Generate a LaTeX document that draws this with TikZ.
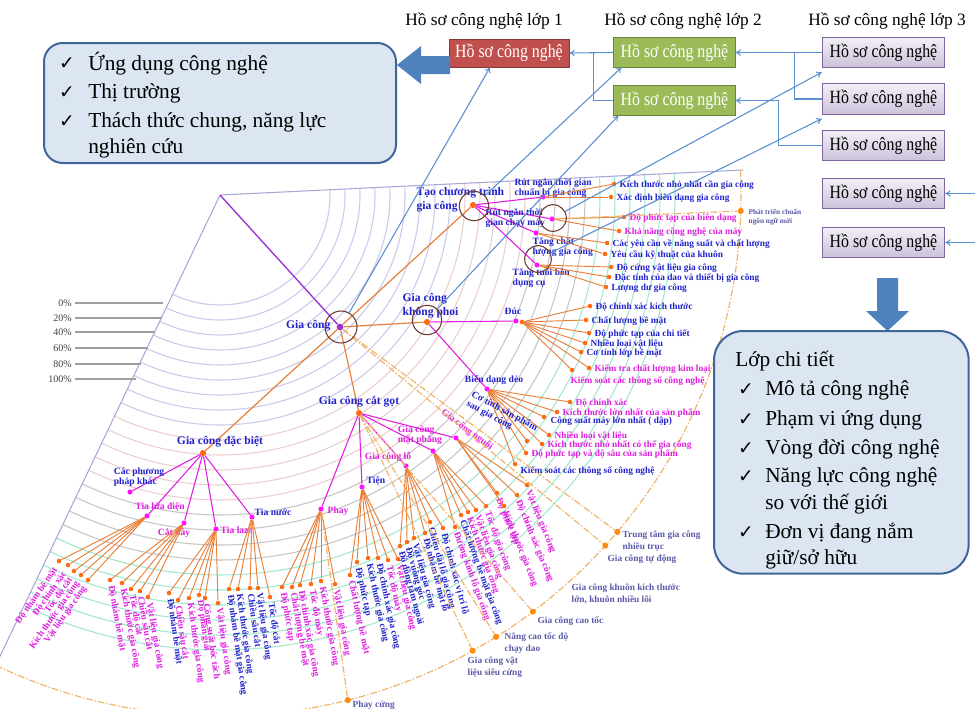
\documentclass[tikz,border=0pt]{standalone}
\usepackage{fontspec}
\setmainfont{Liberation Serif}
\newfontfamily\symf{DejaVu Sans}
\newfontfamily\condf[FakeStretch=0.85]{Liberation Serif}
\usetikzlibrary{calc,arrows.meta}
\definecolor{tb}{HTML}{2222CC}
\definecolor{tm}{HTML}{E01EE0}
\definecolor{lorange}{HTML}{E8803A}
\definecolor{dorange}{HTML}{FF6A10}
\definecolor{dmag}{HTML}{FF10FF}
\definecolor{ddash}{HTML}{F2B46A}
\definecolor{odotc}{HTML}{FF8C10}
\definecolor{slate}{HTML}{5A5AAA}
\definecolor{conblue}{HTML}{5B8FCF}
\definecolor{boxfill}{HTML}{DCE6F2}
\definecolor{boxline}{HTML}{41659A}
\definecolor{bigarrow}{HTML}{4F81BD}
\definecolor{ringc}{HTML}{6E3E30}
\definecolor{arcA}{HTML}{CACAEC}
\definecolor{arcB}{HTML}{EBCDCD}
\definecolor{arcC}{HTML}{C6C6C6}
\definecolor{arcD}{HTML}{A2E8CC}
\definecolor{edgec}{HTML}{A8A8D8}
\definecolor{purp}{HTML}{9B30D8}
\definecolor{redbox}{HTML}{C0504D}
\definecolor{greenbox}{HTML}{9BBB59}
\definecolor{purpline}{HTML}{8064A2}
\definecolor{pcttext}{HTML}{404040}

\newcommand{\hleaves}[2]{%
  \foreach \nm/\x/\y/\cl/\txt in {#2}{%
    \node[odot] (\nm) at (\x,\y) {};
    \draw[oline] (#1) -- (\nm);
    \node[leaf,text=\cl,anchor=west] (\nm t) at ($(\nm)+(5,1)$) {\txt};
  }}
\newcommand{\vleaves}[3]{%
  \foreach \nm/\x/\y/\cl/\txt in {#3}{%
    \node[odot] (\nm) at (\x,\y) {};
    \draw[oline] (#1) -- (\nm);
    \node[leaf,text=\cl,anchor=west,rotate=#2] (\nm t) at ($(\nm)+(1,5)$) {\txt};
  }}

\begin{document}
\begin{tikzpicture}[x=0.75pt,y=-0.75pt,
  odot/.style={circle,fill=dorange,inner sep=0pt,minimum size=3.4pt},
  mdot/.style={circle,fill=dmag,inner sep=0pt,minimum size=3.8pt},
  bdot/.style={circle,fill=dorange,inner sep=0pt,minimum size=4.6pt},
  xdot/.style={circle,fill=odotc,inner sep=0pt,minimum size=4.6pt},
  oline/.style={draw=lorange,line width=0.7pt},
  mline/.style={draw=tm,line width=0.8pt},
  mainline/.style={draw=lorange,line width=0.9pt},
  ring/.style={circle,draw=ringc,line width=0.8pt,inner sep=0pt,minimum size=#1},
  ring/.default=22pt,
  leaf/.style={font=\bfseries\fontsize{7}{8}\selectfont,inner sep=0.3pt},
  sub/.style={font=\bfseries\fontsize{7.2}{7.8}\selectfont,inner sep=0.3pt,align=left},
  main/.style={font=\bfseries\fontsize{8.7}{10.5}\selectfont,text=tb,inner sep=0.3pt,align=left},
  outer/.style={font=\bfseries\fontsize{7}{9}\selectfont,text=slate,inner sep=0.3pt,align=left,anchor=west},
  dashl/.style={draw=ddash,line width=0.9pt,dash pattern=on 5pt off 1.5pt on 1pt off 1.5pt},
  conn/.style={draw=conblue,line width=0.8pt,-{To[length=4pt,width=5pt]}},
  connl/.style={draw=conblue,line width=0.8pt},
  rbx/.style={fill=redbox,draw=redbox!70!black,line width=0.6pt,text=white,minimum width=90pt,minimum height=21pt,inner sep=1pt,font=\condf\fontsize{14}{16}\selectfont},
  gbx/.style={fill=greenbox,draw=greenbox!70!black,line width=0.6pt,text=white,minimum width=91pt,minimum height=22pt,inner sep=1pt,font=\condf\fontsize{14}{16}\selectfont},
  pbx/.style={top color=purpline!10,bottom color=purpline!40,draw=purpline,line width=0.6pt,text=black,minimum width=92pt,minimum height=23pt,inner sep=1pt,font=\condf\fontsize{14}{16}\selectfont},
  ttl/.style={font=\fontsize{13}{15}\selectfont,inner sep=0pt},
  bigbox/.style={draw=boxline,line width=1.5pt,fill=boxfill,inner sep=0pt},
  big/.style={font=\fontsize{16}{19}\selectfont,inner sep=0pt,anchor=west},
  chk/.style={font=\symf\fontsize{14}{16}\selectfont,inner sep=0pt},
  pct/.style={font=\fontsize{7.5}{9}\selectfont,text=pcttext,inner sep=0pt,anchor=east},
]
\useasboundingbox (0,0) rectangle (975,708);
\clip (0,0) rectangle (975,708);
\fill[white] (0,0) rectangle (975,708);

% ---------- fan ----------
\coordinate (A) at (220,195);
\foreach \r in {110,125,...,230}
  \draw[arcA,line width=0.8pt] ($(A)+(-2.74:\r)$) arc[start angle=-2.74,end angle=115.5,radius=\r];
\foreach \r in {245,260,...,305}
  \draw[arcB,line width=0.8pt] ($(A)+(-2.74:\r)$) arc[start angle=-2.74,end angle=115.5,radius=\r];
\foreach \r in {320,335,...,365}
  \draw[arcC,line width=0.8pt] ($(A)+(-2.74:\r)$) arc[start angle=-2.74,end angle=115.5,radius=\r];
\foreach \r in {380,395,...,455}
  \draw[arcD,line width=0.8pt] ($(A)+(-2.74:\r)$) arc[start angle=-2.74,end angle=115.5,radius=\r];
\draw[edgec,line width=0.8pt] (A) -- ($(A)+(-2.74:524)$);
\draw[edgec,line width=0.8pt] (A) -- ($(A)+(115.5:545)$);
\draw[dashl] ($(A)+(-2.74:521)$) arc[start angle=-2.74,end angle=119,radius=521];

% percentages
\foreach \nm/\yy/\xe/\txt in {p0/303/163/0\%,p1/318/162/20\%,p2/332/155/40\%,p3/348/148/60\%,p4/364/141/80\%,p5/379/136/100\%}{
  \node[pct] (\nm) at (72,\yy) {\txt};
  \draw[gray!75,line width=0.8pt] ($(\nm.east)+(3,0)$) -- (\xe,\yy);
}

% ---------- hubs ----------
\node[circle,fill=purp,inner sep=0pt,minimum size=5pt] (gc) at (340,327) {};
\node[bdot] (tc) at (473,205) {};
\node[bdot] (kp) at (427,322) {};
\node[bdot] (cg) at (359,413) {};
\node[bdot] (db) at (203,453) {};
\draw[purp,line width=1pt] (A) -- (gc);
\foreach \c in {tc,kp,cg,db} \draw[mainline] (gc) -- (\c);

\node[main,anchor=east] (gcname) at (331,326) {Gia công};
\node[main,anchor=west] (tcname) at (416,200) {Tạo chương trình\\gia công};
\node[main,anchor=west] (kpname) at (402,306) {Gia công\\không phoi};
\node[main] (cgname) at (359,402) {Gia công cắt gọt};
\node[main] (dbname) at (220,442) {Gia công đặc biệt};

% ---------- Tao chuong trinh ----------
\node[mdot] (rt1) at (543,197) {};
\node[mdot] (rt2) at (552,219) {};
\node[mdot] (rt3) at (536,233) {};
\node[mdot] (rt4) at (537,265) {};
\foreach \c in {rt1,rt2,rt3,rt4} \draw[mline] (tc) -- (\c);
\node[sub,text=tb,anchor=west] (rt1n) at (514,188) {Rút ngắn thời gian\\chuẩn bị gia công};
\node[sub,text=tb,anchor=west] (rt2n) at (485,218) {Rút ngắn thời\\gian chạy máy};
\node[sub,text=tb,anchor=west] (rt3n) at (532,247) {Tăng chất\\lượng gia công};
\node[sub,text=tb,anchor=west] (rt4n) at (512,278) {Tăng tuổi bền\\dụng cụ};
\hleaves{rt1}{l11/614/184/tb/Kích thước nhỏ nhất cần gia công,l12/611/197/tb/Xác định biên dạng gia công}
\hleaves{rt2}{l21/624/217/tm/Độ phức tạp của biên dạng,l22/619/231/tm/Khả năng công nghệ của máy}
\hleaves{rt3}{l31/607/243/tb/Các yêu cầu về năng suất và chất lượng,l32/605/254/tb/Yêu cầu kỹ thuật của khuôn}
\hleaves{rt4}{l41/611/267/tb/Độ cứng vật liệu gia công,l42/609/277/tb/Đặc tính của dao và thiết bị gia công,l43/606/287/tb/Lượng dư gia công}

% ---------- Gia cong khong phoi ----------
\node[mdot] (duc) at (516,321) {};
\node[odot] (duch) at (522,322) {};
\draw[mline] (kp) -- (duc);
\node[sub,text=tb] (ducn) at (513,311) {Đúc};
\hleaves{duch}{d1/590/306/tb/Độ chính xác kích thước,d2/586/320/tb/Chất lượng bề mặt,d3/589/333/tb/Độ phức tạp của chi tiết,d4/585/343/tb/Nhiều loại vật liệu,d5/581/352/tb/Cơ tính lớp bề mặt,d6/589/368/tm/Kiểm tra chất lượng kim loại}
\node[odot] (d7) at (572,370) {};
\draw[oline] (duch) -- (d7);
\node[leaf,text=tm,anchor=west] (d7t) at (570,381) {Kiểm soát các thông số công nghệ};

\node[mdot] (bd) at (487,389) {};
\draw[mline] (kp) -- (bd);
\node[sub,text=tb] (bdn) at (494,380) {Biến dạng dẻo};
\hleaves{bd}{b1/570/402/tm/Độ chính xác,b2/557/412/tm/Kích thước lớn nhất của sản phẩm,b4/549/435/tm/Nhiều loại vật liệu,b5/542/444/tm/Kích thước nhỏ nhất có thể gia công,b6/526/453/tm/Độ phức tạp và độ sâu của sản phẩm}
\node[odot] (b3) at (544,417) {};
\draw[oline] (bd) -- (b3);
\node[leaf,text=tb,anchor=west] (b3t) at (550,421) {Công suất máy lớn nhất ( dập)};
\node[odot] (b7) at (515,464) {};
\draw[oline] (bd) -- (b7);
\node[leaf,text=tb,anchor=west] (b7t) at (520,471) {Kiểm soát các thông số công nghệ};
\node[odot] (b8) at (527,441) {};
\draw[oline] (bd) -- (b8);
\node[sub,text=tb,rotate=-28] (b8t) at (502,416) {Cơ tính sản phẩm\\sau gia công};

% ---------- Gia cong cat got ----------
\node[mdot] (phay) at (321,509) {};
\node[mdot] (tien) at (362,487) {};
\node[mdot] (lo) at (406,466) {};
\node[mdot] (mp) at (433,451) {};
\node[mdot] (ng) at (456,438) {};
\foreach \c in {phay,tien,lo,mp,ng} \draw[mline] (cg) -- (\c);
\node[sub,text=tm,anchor=west] (phayn) at (327,511) {Phay};
\node[sub,text=tb,anchor=west] (tienn) at (366,481) {Tiện};
\node[sub,text=tm] (lon) at (388,457) {Gia công lỗ};
\node[sub,text=tm] (mpn) at (420,435) {Gia công\\mặt phẳng};
\node[sub,text=tm,rotate=-37] (ngn) at (467,430) {Gia công nguội};

\vleaves{phay}{-80}{ph1/282/587/tm/Độ phức tạp,ph2/292/587/tm/Chất lượng bề mặt,ph3/300/585/tm/Độ chính xác gia công,ph4/311/584/tm/Tốc độ máy,ph5/321/581/tm/Kích thước gia công,ph6/335/584/tm/Vật liệu gia công}
\vleaves{tien}{-78}{ti1/350/575/tm/Chất lượng bề mặt,ti2/357/562/tb/Độ phức tạp,ti3/368/558/tb/Kích thước gia công,ti4/378/558/tb/Độ chính xác gia công,ti5/388/560/tm/Tốc độ máy,ti6/398/559/tm/Vật liệu gia công}
\vleaves{lo}{-75}{lo1/400/546/tb/Độ đồng tâm ngoài,lo2/407/542/tb/Độ vuông góc,lo3/414/538/tb/Vật liệu gia công,lo4/425/533/tb/Độ nhám bề mặt lỗ,lo5/430/522/tb/Chiều dài lỗ gia công,lo6/443/528/tb/Độ chính xác vị trí lỗ}
\vleaves{mp}{-70}{mp1/455/527/tm/Đường kính lỗ gia công,mp2/461/515/tb/Chất lượng bề mặt gia công,mp3/468/512/tm/Kích thước gia công,mp4/476/510/tm/Vật liệu gia công,mp5/486/506/tm/Tốc độ gia công}
\vleaves{ng}{-68}{ng1/497/493/tm/Độ phức tạp,ng2/504/506/tm/Kích thước gia công,ng3/517/495/tm/Độ chính xác gia công,ng4/527/485/tm/Vật liệu gia công}

% ---------- Gia cong dac biet ----------
\node[mdot] (ck) at (130,492) {};
\node[mdot] (tld) at (147,516) {};
\node[mdot] (cd) at (184,523) {};
\node[mdot] (tl) at (216,529) {};
\node[mdot] (tn) at (252,517) {};
\foreach \c in {ck,tld,cd,tl,tn} \draw[mline] (db) -- (\c);
\node[sub,text=tb] (ckn) at (139,477) {Các phương\\pháp khác};
\node[sub,text=tm] (tldn) at (160,507) {Tia lửa điện};
\node[sub,text=tm] (cdn) at (174,533) {Cắt dây};
\node[sub,text=tm,anchor=west] (tln) at (220,530) {Tia laze};
\node[sub,text=tb,anchor=west] (tnn) at (254,512) {Tia nước};

\foreach \nm/\x/\y/\cl/\txt in {e1/59/561/tm/Độ nhám bề mặt,e2/68/565/tm/Độ chính xác,e3/74/571/tm/Tốc độ cắt,e4/81/575/tm/Kích thước gia công,e5/88/580/tm/Vật liệu gia công}{
  \node[odot] (\nm) at (\x,\y) {};
  \draw[oline] (tld) -- (\nm);
  \node[leaf,text=\cl,anchor=east,rotate=55] (\nm t) at ($(\nm)+(-3,7)$) {\txt};
}
\vleaves{cd}{-80}{cd1/110/580/tm/Độ nhám bề mặt,cd2/122/583/tm/Kích thước gia công,cd3/131/589/tm/Tốc độ cắt,cd4/140/591/tm/Chiều sâu cắt,cd5/148/597/tm/Vật liệu gia công}
\vleaves{tl}{-82}{tl1/169/593/tb/Độ nhám bề mặt,tl2/178/600/tm/Chiều sâu cắt,tl3/189/598/tm/Kích thước gia công,tl4/199/595/tm/Độ phân giải,tl5/205/598/tm/Công suất bóc tách,tl6/218/603/tm/Vật liệu gia công}
\vleaves{tn}{-82}{tn1/229/589/tb/Độ nhám bề mặt gia công,tn2/238/589/tb/Kích thước gia công,tn3/250/588/tb/Chiều sâu cắt,tn4/258/588/tb/Vật liệu gia công,tn5/270/597/tb/Tốc độ cắt}

% ---------- outer ring items ----------
\foreach \nm/\ang in {o1/1.75,o2/40.3,o3/42.3,o4/53.1,o5/58.0,o6/61.0,o7/75.8}
  \node[xdot] (\nm) at ($(A)+(\ang:521)$) {};
\draw[dashl] (rt2) -- (o1);
\draw[dashl] (gc) -- (o2);
\draw[dashl] (gc) -- (o3);
\draw[dashl] (cg) -- (o4);
\draw[dashl] (cg) -- (o5);
\draw[dashl] (cg) -- (o6);
\draw[dashl] (phay) -- (o7);
\node[outer,font=\bfseries\fontsize{5.5}{7}\selectfont] (o1t) at (748,217) {Phát triển chuẩn\\ngôn ngữ mới};
\node[outer] (o2t) at (622,541) {Trung tâm gia công\\nhiều trục};
\node[outer] (o3t) at (607,559) {Gia công tự động};
\node[outer] (kht) at (571,594) {Gia công khuôn kích thước\\lớn, khuôn nhiều lõi};
\node[outer] (o4t) at (537,621) {Gia công cao tốc};
\node[outer] (o5t) at (504,643) {Nâng cao tốc độ\\chạy dao};
\node[outer] (o6t) at (467,667) {Gia công vật\\liệu siêu cứng};
\node[outer] (o7t) at (352,705) {Phay cứng};

% ---------- rings ----------
\node[ring=24pt] (gcr) at (341,327) {};
\node[ring=22pt] (tcr) at (474,206) {};
\node[ring=22pt] (kpr) at (427,320) {};
\node[ring=20pt] (rt2r) at (553,218) {};
\node[ring=20pt] (rt4r) at (538,259) {};

% ---------- top boxes ----------
\node[ttl] (t1) at (484,21) {Hồ sơ công nghệ lớp 1};
\node[ttl] (t2) at (683,21) {Hồ sơ công nghệ lớp 2};
\node[ttl] (t3) at (887,21) {Hồ sơ công nghệ lớp 3};
\node[rbx] (rbox) at (509,53) {Hồ sơ công nghệ};
\node[gbx] (g1) at (674.5,52.5) {Hồ sơ công nghệ};
\node[gbx] (g2) at (674.5,100.5) {Hồ sơ công nghệ};
\node[pbx] (q1) at (883.5,52.5) {Hồ sơ công nghệ};
\node[pbx] (q2) at (883.5,99) {Hồ sơ công nghệ};
\node[pbx] (q3) at (883.5,145.5) {Hồ sơ công nghệ};
\node[pbx] (q4) at (883.5,193.5) {Hồ sơ công nghệ};
\node[pbx] (q5) at (883.5,242.5) {Hồ sơ công nghệ};

\draw[conn] (g1.west) -- (rbox.east);
\draw[connl] (g2.west) -| ($(rbox.east)!0.55!(g1.west)$);
\draw[conn] (q1.west) -- (g1.east);
\draw[connl] (q2.west) -| ($(g1.east)!0.68!(q1.west)$);
\draw[conn] (q3.west) -| ($(g2.east)+(43,0)$) -- (g2.east);
\coordinate (e4) at (975,193.5);
\coordinate (e5) at (975,242.5);
\draw[conn] (e4) -- (q4.east);
\draw[conn] (e5) -- (q5.east);

\draw[conn] (gcr) -- ($(rbox.south)+(-19,0)$);
\draw[conn] (tcr) -- ($(g1.south west)+(8,0)$);
\draw[conn] (kpr) -- ($(g2.south west)+(5,0)$);
\draw[conn] (rt2r) -- ($(q1.south west)+(0,4)$);
\draw[conn] (rt4r) -- ($(q2.south west)+(0,4)$);

% ---------- left box ----------
\node[bigbox,rounded corners=14pt,minimum width=264pt,minimum height=90pt,anchor=north west] (lbox) at (43,42) {};
\fill[bigarrow] (450,56) -- (421,56) -- (421,46) -- (397,65) -- (421,84) -- (421,74) -- (450,74) -- cycle;
\node[chk] (c1) at (67,64) {✓};
\node[big] (s1) at (88,64) {Ứng dụng công nghệ};
\node[chk] (c2) at (67,93) {✓};
\node[big] (s2) at (88,93) {Thị trường};
\node[chk] (c3) at (67,122) {✓};
\node[big] (s3) at (88,122) {Thách thức chung, năng lực};
\node[big] (s4) at (88,148) {nghiên cứu};

% ---------- right box ----------
\fill[bigarrow] (877,278) -- (898,278) -- (898,311) -- (909,311) -- (887.5,331) -- (866,311) -- (877,311) -- cycle;
\node[bigbox,rounded corners=22pt,minimum width=191pt,minimum height=182pt,anchor=north west] (rbig) at (713,330) {};
\node[big] (r0) at (735,361) {Lớp chi tiết};
\node[chk] (rc1) at (746,390) {✓};
\node[big] (r1) at (765,390) {Mô tả công nghệ};
\node[chk] (rc2) at (746,420) {✓};
\node[big] (r2) at (765,420) {Phạm vi ứng dụng};
\node[chk] (rc3) at (746,449) {✓};
\node[big] (r3) at (765,449) {Vòng đời công nghệ};
\node[chk] (rc4) at (746,477) {✓};
\node[big] (r4) at (765,477) {Năng lực công nghệ};
\node[big] (r5) at (765,504) {so với thế giới};
\node[chk] (rc6) at (746,533) {✓};
\node[big] (r6) at (765,533) {Đơn vị đang nắm};
\node[big] (r7) at (765,559) {giữ/sở hữu};
\end{tikzpicture}
\end{document}
